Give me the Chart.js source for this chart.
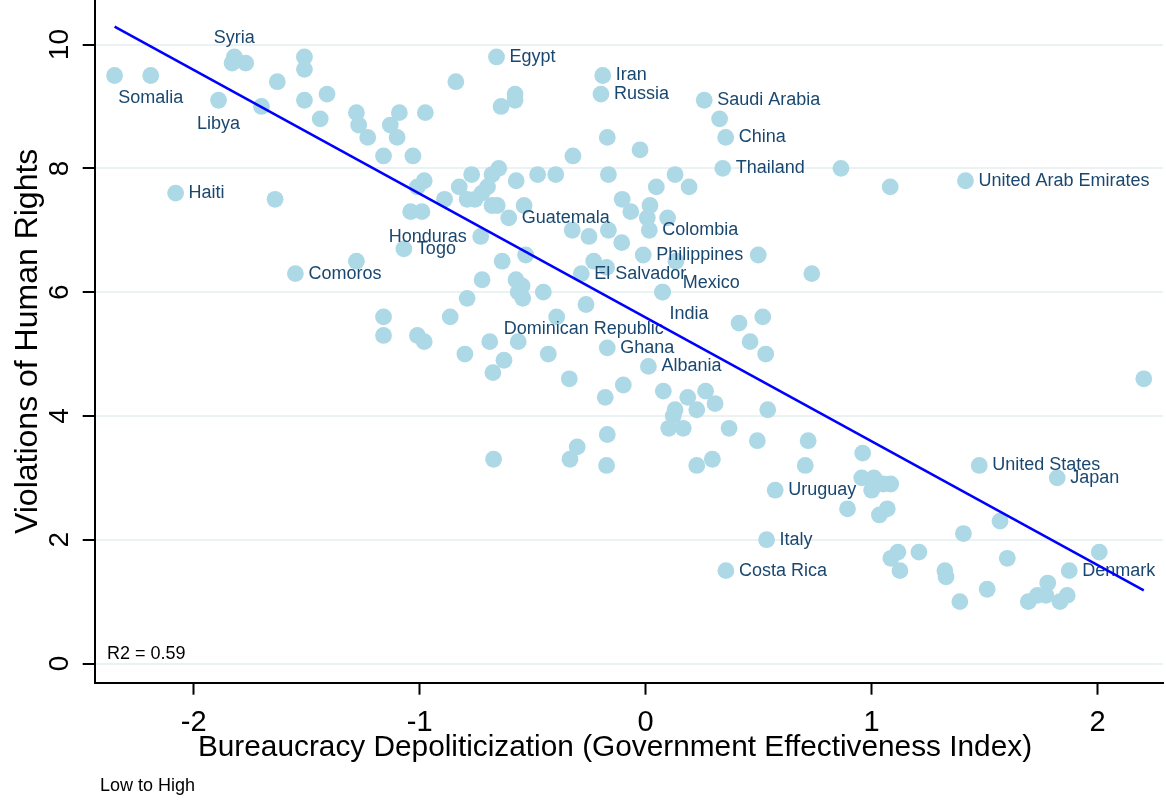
<!DOCTYPE html>
<html>
<head>
<meta charset="utf-8">
<script src="https://cdn.jsdelivr.net/npm/chart.js@4/dist/chart.umd.min.js"></script>
<style>
  html, body { margin: 0; padding: 0; background: #ffffff; }
  #wrap { width: 1166px; height: 801px; }
</style>
</head>
<body>
<div id="wrap"><canvas id="c" width="1166" height="801"></canvas></div>
<script>
// Government effectiveness (x) and human-rights violations (y) per country
const govEffectiveness = [
  -2.35, -2.19, -2.08, -1.89, -1.82, -1.83, -1.77, -1.70, -1.64, -1.63,
  -1.55, -1.51, -1.51, -1.51, -1.44, -1.41, -1.28, -1.27, -1.28, -1.23,
  -1.16, -1.16, -1.16, -1.13, -1.10, -1.09, -1.07, -1.04, -1.03, -1.01,
  -1.01, -0.99, -0.98, -0.98, -0.975, -0.89, -0.865, -0.84, -0.825, -0.80,
  -0.79, -0.79, -0.77, -0.755, -0.73, -0.725, -0.724, -0.70, -0.69, -0.68,
  -0.68, -0.676, -0.673, -0.66, -0.657, -0.65, -0.64, -0.635, -0.627, -0.606,
  -0.578, -0.578, -0.573, -0.574, -0.564, -0.564, -0.547, -0.544, -0.538, -0.531,
  -0.478, -0.453, -0.431, -0.398, -0.394, -0.338, -0.335, -0.325, -0.322, -0.303,
  -0.285, -0.264, -0.251, -0.230, -0.198, -0.190, -0.179, -0.173, -0.173, -0.170,
  -0.170, -0.170, -0.165, -0.165, -0.106, -0.104, -0.099, -0.066, -0.025, -0.011,
  0.012, 0.016, 0.007, 0.019, 0.047, 0.075, 0.078, 0.097, 0.102, 0.122,
  0.130, 0.130, 0.134, 0.166, 0.186, 0.192, 0.226, 0.226, 0.259, 0.265,
  0.295, 0.307, 0.327, 0.341, 0.354, 0.355, 0.369, 0.413, 0.462, 0.494,
  0.498, 0.518, 0.531, 0.535, 0.540, 0.573, 0.706, 0.719, 0.735, 0.864,
  0.893, 0.956, 0.960, 1.000, 1.010, 1.034, 1.051, 1.069, 1.082, 1.084,
  1.085, 1.116, 1.125, 1.209, 1.324, 1.329, 1.39, 1.406, 1.415, 1.476,
  1.511, 1.568, 1.600, 1.693, 1.733, 1.771, 1.779, 1.821, 1.833, 1.865,
  1.874, 2.007, 2.204, 0.074
];
const rightsViolations = [
  9.5, 9.5, 7.6, 9.1, 9.8, 9.7, 9.7, 9.0, 7.5, 9.4,
  6.3, 9.8, 9.6, 9.1, 8.8, 9.2, 8.9, 8.7, 6.5, 8.5,
  8.2, 5.6, 5.3, 8.7, 8.5, 8.9, 6.7, 7.3, 8.2, 7.7,
  5.3, 7.3, 7.8, 5.2, 8.9, 7.5, 5.6, 9.4, 7.7, 5.0,
  7.5, 5.9, 7.9, 7.5, 6.9, 7.6, 6.2, 7.7, 5.2, 7.9,
  7.4, 4.7, 3.3, 9.8, 7.4, 8.0, 9.0, 6.5, 4.9, 7.2,
  9.2, 9.1, 7.8, 6.2, 6.0, 5.2, 6.1, 5.9, 7.4, 6.6,
  7.9, 6.0, 5.0, 7.9, 5.6, 4.6, 3.3, 7.0, 8.2, 3.5,
  6.3, 5.8, 6.9, 6.5, 9.2, 9.5, 4.3, 6.4, 3.2, 8.5,
  5.1, 3.7, 7.9, 7.0, 6.8, 7.5, 4.5, 7.3, 8.3, 6.6,
  4.8, 7.0, 7.2, 7.4, 7.7, 6.0, 4.4, 7.2, 3.8, 4.0,
  4.1, 7.9, 6.5, 3.8, 4.3, 7.7, 4.1, 3.2, 9.1, 4.4,
  3.3, 4.2, 8.8, 8.0, 8.5, 1.5, 3.8, 5.5, 5.2, 3.6,
  6.6, 5.6, 5.0, 2.0, 4.1, 2.8, 3.2, 3.6, 6.3, 8.0,
  2.5, 3.0, 3.4, 2.8, 3.0, 2.4, 2.9, 2.5, 7.7, 2.9,
  1.7, 1.8, 1.5, 1.8, 1.5, 1.4, 1.0, 2.1, 7.8, 3.2,
  1.2, 2.3, 1.7, 1.0, 1.1, 1.1, 1.3, 3.0, 1.0, 1.1,
  1.5, 1.8, 4.6, 6.0
];
const countryNames = [
  "", "Somalia", "Haiti", "Libya", "Syria", "", "", "", "", "",
  "Comoros", "", "", "", "", "", "", "", "", "",
  "", "", "", "", "", "", "Togo", "", "", "",
  "", "", "", "", "", "", "", "", "", "",
  "", "", "", "", "Honduras", "", "", "", "Dominican Republic", "",
  "", "", "", "Egypt", "", "", "", "", "", "Guatemala",
  "", "", "", "", "", "", "", "", "", "",
  "", "", "", "", "", "", "", "", "", "",
  "El Salvador", "", "", "", "Russia", "Iran", "", "", "", "",
  "Ghana", "", "", "", "", "", "", "", "", "Philippines",
  "Albania", "Colombia", "", "", "", "Mexico", "", "", "", "",
  "", "", "", "", "", "", "", "", "Saudi Arabia", "",
  "", "", "", "Thailand", "China", "Costa Rica", "", "", "", "",
  "", "", "", "Italy", "", "Uruguay", "", "", "", "",
  "", "", "", "", "", "", "", "", "", "",
  "", "", "", "", "", "", "", "", "United Arab Emirates", "United States",
  "", "", "", "", "", "", "", "Japan", "", "",
  "Denmark", "", "", "India"
];
const xTickValues = [-2, -1, 0, 1, 2];
const yTickValues = [0, 2, 4, 6, 8, 10];

// Linear fit and its reported goodness of fit
const fitIntercept = 5.59;
const fitSlope = -2.0;
const fitR2Text = "R2 = 0.59";

const xAxisTitle = "Bureaucracy Depoliticization (Government Effectiveness Index)";
const yAxisTitle = "Violations of Human Rights";
const noteText = "Low to High";

// ---- derived structures for the library ----
const scatterPoints = govEffectiveness.map((x, i) => ({ x: x, y: rightsViolations[i], name: countryNames[i] }));
const xMin = Math.min(...govEffectiveness);
const xMax = Math.max(...govEffectiveness);
const fitPoints = [xMin, xMax].map(x => ({ x: x, y: fitIntercept + fitSlope * x }));

const FONT = "'Liberation Sans', Arial, Helvetica, sans-serif";
Chart.defaults.font.family = FONT;

// Where each country name sits relative to its marker
const labelPlacement = {
  default: { dx: 13, dy: 0, align: 'left' },
  "Somalia": { dx: 0, dy: 23, align: 'center' },
  "Libya": { dx: 0, dy: 24, align: 'center' },
  "Syria": { dx: 0, dy: -19, align: 'center' },
  "Honduras": { dx: -14, dy: 1, align: 'right' },
  "Dominican Republic": { dx: 14, dy: -13, align: 'left' },
  "Mexico": { dx: 20, dy: -9, align: 'left' },
  "India": { dx: 7, dy: 22, align: 'left' }
};

const annotationPlugin = {
  id: 'annotations',
  afterDatasetDraw(chart, args) {
    if (args.index !== 0) return;
    const ctx = chart.ctx;
    const meta = chart.getDatasetMeta(0);
    ctx.save();
    ctx.font = '18px ' + FONT;
    ctx.fillStyle = '#1a476f';
    ctx.textBaseline = 'middle';
    meta.data.forEach((el, i) => {
      const name = countryNames[i];
      if (!name) return;
      const p = labelPlacement[name] || labelPlacement.default;
      ctx.textAlign = p.align;
      ctx.fillText(name, el.x + p.dx, el.y + p.dy);
    });
    ctx.restore();
  },
  afterDraw(chart) {
    const ctx = chart.ctx;
    const ys = chart.scales.y;
    const area = chart.chartArea;
    ctx.save();
    ctx.fillStyle = '#000';
    // rotated y tick labels
    ctx.font = '28px ' + FONT;
    ctx.textAlign = 'center';
    ctx.textBaseline = 'middle';
    yTickValues.forEach(v => {
      const py = ys.getPixelForValue(v);
      ctx.save();
      ctx.translate(60, py);
      ctx.rotate(-Math.PI / 2);
      ctx.fillText(String(v), 0, 0);
      ctx.restore();
    });
    // y axis title
    ctx.font = '32px ' + FONT;
    ctx.save();
    ctx.translate(28, (area.top + area.bottom) / 2);
    ctx.rotate(-Math.PI / 2);
    ctx.fillText(yAxisTitle, 0, 0);
    ctx.restore();
    // x axis title
    ctx.font = '29.8px ' + FONT;
    ctx.fillText(xAxisTitle, 615, 748);
    // fit statistic and note
    ctx.font = '18px ' + FONT;
    ctx.textAlign = 'left';
    ctx.fillText(fitR2Text, 107, 654);
    ctx.fillText(noteText, 100, 786);
    ctx.restore();
  }
};

new Chart(document.getElementById('c'), {
  type: 'scatter',
  data: {
    datasets: [
      {
        type: 'scatter',
        data: scatterPoints,
        backgroundColor: '#add8e6',
        borderWidth: 0,
        pointRadius: 8.4,
        pointHoverRadius: 8.4,
        order: 2
      },
      {
        type: 'line',
        data: fitPoints,
        borderColor: '#0000ff',
        borderWidth: 2.5,
        pointRadius: 0,
        fill: false,
        order: 1
      }
    ]
  },
  options: {
    responsive: false,
    animation: false,
    devicePixelRatio: 1,
    layout: { autoPadding: false, padding: { left: 0, right: 3, top: 0, bottom: 0 } },
    plugins: { legend: { display: false }, tooltip: { enabled: false } },
    scales: {
      x: {
        type: 'linear',
        min: -2.438,
        max: 2.289,
        afterBuildTicks: s => { s.ticks = xTickValues.map(v => ({ value: v })); },
        afterFit: s => { s.height = 118.3; },
        grid: { drawOnChartArea: false, drawTicks: true, tickLength: 12, tickColor: '#000', tickWidth: 2 },
        border: { display: true, color: '#000', width: 2 },
        ticks: { color: '#000', font: { size: 29 }, padding: 11, maxRotation: 0 }
      },
      y: {
        type: 'linear',
        min: -0.31,
        max: 10.72,
        afterBuildTicks: s => { s.ticks = yTickValues.map(v => ({ value: v })); },
        afterFit: s => { s.width = 94.7; },
        grid: { color: '#eaf2f3', lineWidth: 2, drawTicks: true, tickLength: 12, tickColor: '#000', tickWidth: 2 },
        border: { display: true, color: '#000', width: 2 },
        ticks: { display: false }
      }
    }
  },
  plugins: [annotationPlugin]
});
</script>
</body>
</html>
